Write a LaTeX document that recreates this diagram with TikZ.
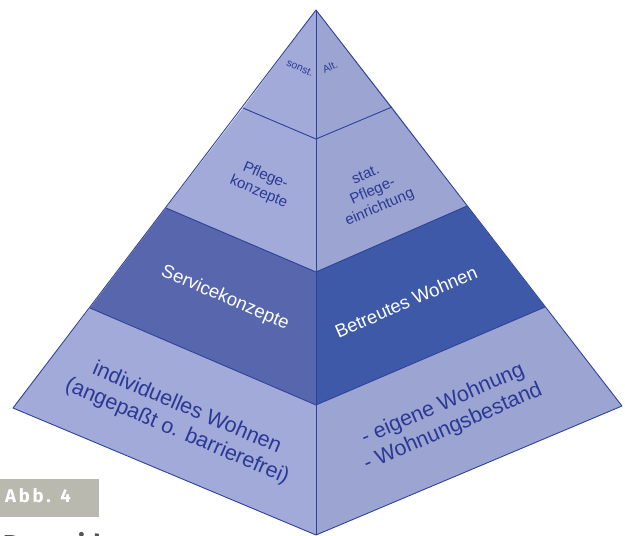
\documentclass[tikz,border=0pt]{standalone}
\usepackage{fontspec}
\setmainfont{Liberation Sans}
\newfontfamily\capfont[LetterSpace=15]{Fira Sans}
\newfontfamily\headfont{Fira Sans}
\definecolor{faceL}{HTML}{A1AAD8}
\definecolor{faceR}{HTML}{9CA5D2}
\definecolor{darkL}{HTML}{5866AE}
\definecolor{darkR}{HTML}{3E59A7}
\definecolor{edgeblue}{HTML}{2D419B}
\definecolor{textblue}{HTML}{2A3994}
\definecolor{capgray}{HTML}{B9B9AF}
\definecolor{headgray}{HTML}{555555}
\begin{document}
\begin{tikzpicture}[x=1pt,y=-1pt,
  edge/.style={draw=edgeblue,line width=0.9pt,line join=round},
  lefttxt/.style={text=textblue,align=center,rotate=-23,inner sep=0pt},
  righttxt/.style={text=textblue,align=center,rotate=23.5,inner sep=0pt},
  big/.style={font=\fontsize{21.5}{25}\selectfont},
  mid/.style={font=\fontsize{18.5}{22}\selectfont},
  small/.style={font=\fontsize{15}{17.5}\selectfont},
  tiny/.style={font=\fontsize{10.5}{12}\selectfont}]
\useasboundingbox (0,0) rectangle (625,536);
\clip (0,0) rectangle (625,536);

% corner points of the tiers
\coordinate (apex) at (316,10);
\coordinate (l1) at (243,108); \coordinate (c1) at (316,139); \coordinate (r1) at (392,107);
\coordinate (l2) at (166,208); \coordinate (c2) at (316,272); \coordinate (r2) at (467,206);
\coordinate (l3) at (90,308);  \coordinate (c3) at (316,405); \coordinate (r3) at (545,307);
\coordinate (l4) at (13,408);  \coordinate (c4) at (316,535); \coordinate (r4) at (622,406);

% faces
\fill[faceL] (apex) -- (l1) -- (c1) -- cycle;
\fill[faceR] (apex) -- (c1) -- (r1) -- cycle;
\fill[faceL] (l1) -- (l2) -- (c2) -- (c1) -- cycle;
\fill[faceR] (c1) -- (c2) -- (r2) -- (r1) -- cycle;
\fill[darkL] (l2) -- (l3) -- (c3) -- (c2) -- cycle;
\fill[darkR] (c2) -- (c3) -- (r3) -- (r2) -- cycle;
\fill[faceL] (l3) -- (l4) -- (c4) -- (c3) -- cycle;
\fill[faceR] (c3) -- (c4) -- (r4) -- (r3) -- cycle;

% edges
\draw[edge] (apex) -- (l4) -- (c4) -- (r4) -- cycle;
\draw[edge] (apex) -- (c4);
\draw[edge] (l1) -- (c1) -- (r1);
\draw[edge] (l2) -- (c2) -- (r2);
\draw[edge] (l3) -- (c3) -- (r3);

% labels
\node[lefttxt,tiny] (sonst) at (300,68) {sonst.};
\node[righttxt,tiny] (alt) at (330,67) {Alt.};
\node[lefttxt,small] (pflk) at (262,184) {Pflege-\\konzepte};
\node[righttxt,small] (stat) at (373,192) {stat.\\Pflege-\\einrichtung};
\node[lefttxt,mid,text=white] (serv) at (225,298) {Servicekonzepte};
\node[righttxt,mid,text=white] (betr) at (406,302) {Betreutes Wohnen};
\node[lefttxt,big] (indiv) at (182,420) {individuelles Wohnen\\(angepaßt o. barrierefrei)};
\node[righttxt,big] (eigen) at (448,416) {- eigene Wohnung\\- Wohnungsbestand};

% caption tag
\fill[capgray] (0,479) rectangle (99,517);
\node[anchor=base west,inner sep=0pt,text=white,font=\capfont\bfseries\fontsize{18.5}{20}\selectfont] (abb) at (5,502) {Abb. 4};
\node[anchor=north west,inner sep=0pt,text=headgray,font=\headfont\bfseries\fontsize{26}{30}\selectfont] (pyr) at (3,532) {Pyramide};
\end{tikzpicture}
\end{document}
